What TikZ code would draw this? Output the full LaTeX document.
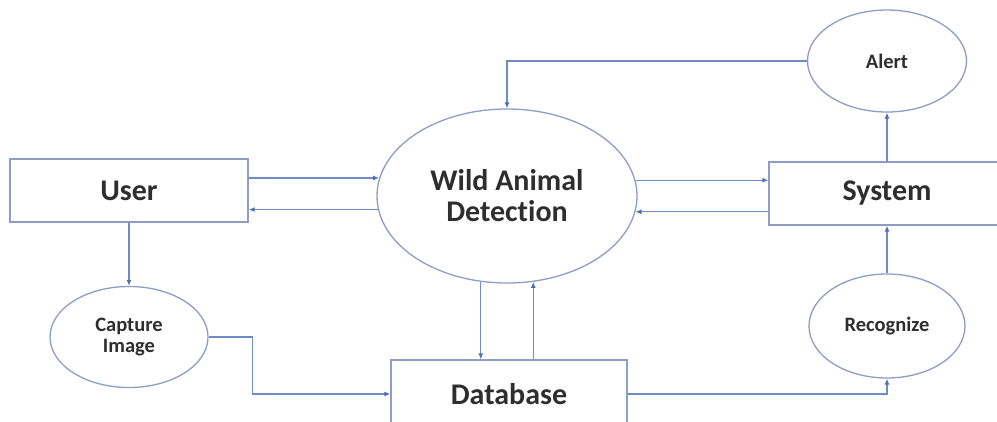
\documentclass[tikz,border=0pt]{standalone}
\usepackage{fontspec}
\setmainfont[Ligatures=NoCommon]{Carlito}
\usetikzlibrary{arrows.meta,shapes.geometric}

\definecolor{flow}{HTML}{6F8CC6}
\definecolor{tipcol}{HTML}{4F6FB0}
\definecolor{edge}{HTML}{8F9DC2}
\definecolor{ink}{HTML}{2E2E2E}

\tikzset{
  entity/.style={draw=edge, line width=1.3pt, fill=white, rectangle, inner sep=0pt,
    text=ink, font=\bfseries\fontsize{30}{31}\selectfont},
  bigproc/.style={draw=edge, line width=1.3pt, fill=white, ellipse, inner sep=0pt,
    text=ink, align=center, font=\bfseries\fontsize{30}{31}\selectfont},
  proc/.style={draw=edge, line width=1.3pt, fill=white, ellipse, inner sep=0pt,
    text=ink, align=center, font=\bfseries\fontsize{20.5}{21}\selectfont},
  arr/.style={draw=flow, line width=1.2pt,
    -{Latex[length=6pt,width=5pt,color=tipcol]}},
}

\begin{document}
\begin{tikzpicture}[x=1pt,y=-1pt]
\useasboundingbox (0,0) rectangle (997,421);
\clip (0,0) rectangle (997,421);
\fill[white] (0,0) rectangle (997,421);

% external entities
\node[entity, minimum width=238pt, minimum height=63pt] (user) at (129,190.5) {User};
\node[entity, minimum width=236pt, minimum height=63pt] (system) at (887,193.5) {System};
\node[entity, minimum width=236pt, minimum height=68pt] (database) at (509,394) {Database};

% processes
\node[bigproc, minimum width=260pt, minimum height=174pt] (wad) at (507,196) {Wild Animal\\Detection};
\node[proc, minimum width=158pt, minimum height=101pt] (capture) at (129,337) {Capture\\Image};
\node[proc, minimum width=156pt, minimum height=104pt] (recognize) at (887,326) {Recognize};
\node[proc, minimum width=159pt, minimum height=102pt] (alert) at (887,61) {Alert};

% data flows
\draw[arr] (wad.172.4 -| user.east) -- (wad.172.4);
\draw[arr] (wad.186.2) -- (wad.186.2 -| user.east);
\draw[arr] (wad.7.6) -- (wad.7.6 -| system.west);
\draw[arr] (wad.-7.6 -| system.west) -- (wad.-7.6);
\draw[arr] (user.south) -- (capture.north);
\draw[arr] (capture.east) -- ++(44,0) |- (database.west);
\draw[arr] (wad.253) -- (wad.253 |- database.north);
\draw[arr] (wad.-73 |- database.north) -- (wad.-73);
\draw[arr] (database.east) -| (recognize.south);
\draw[arr] (recognize.north) -- (system.south);
\draw[arr] (system.north) -- (alert.south);
\draw[arr] (alert.west) -| (wad.north);
\end{tikzpicture}
\end{document}
